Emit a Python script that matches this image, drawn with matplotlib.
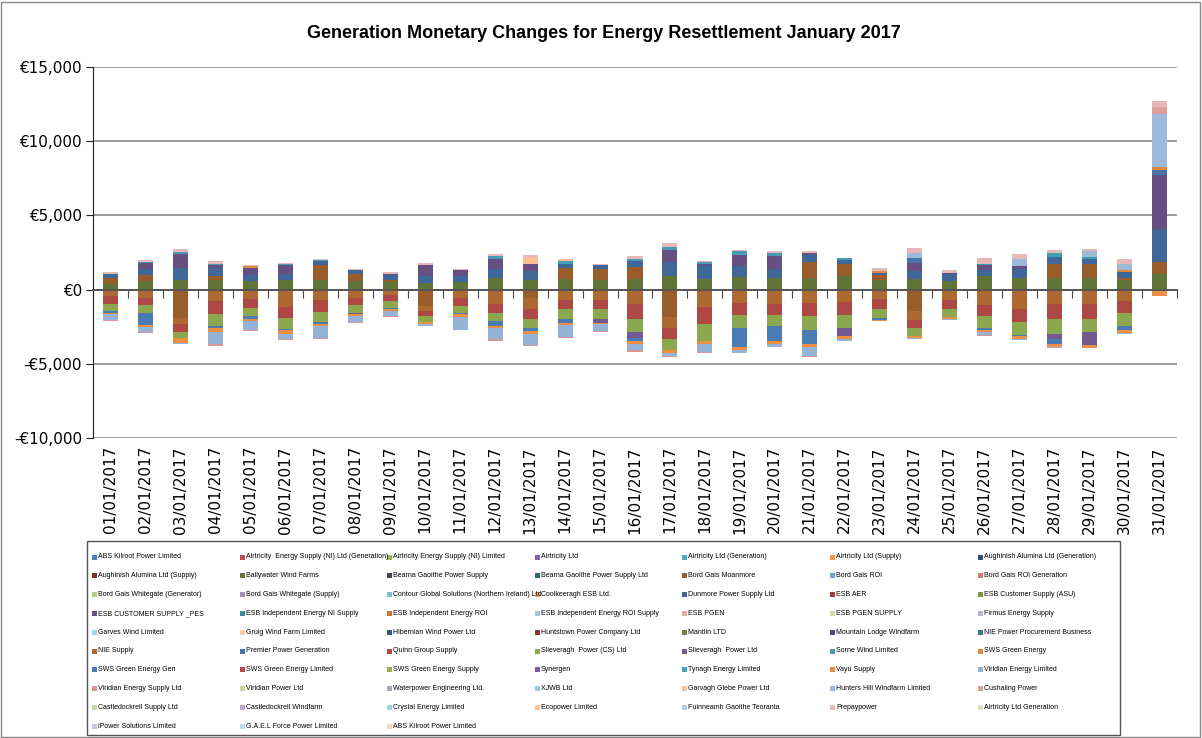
import matplotlib
matplotlib.use("Agg")
import matplotlib.pyplot as plt
from matplotlib.patches import Rectangle
from matplotlib.ticker import FuncFormatter
import matplotlib.transforms as mtransforms
import numpy as np

dates = [f"{d:02d}/01/2017" for d in range(1, 32)]

series_names = [
    "ABS Kilroot Power Limited", "Airtricity  Energy Supply (NI) Ltd (Generation)",
    "Airtricity Energy Supply (NI) Limited", "Airtricity Ltd", "Airtricity Ltd (Generation)",
    "Airtricity Ltd (Supply)", "Aughinish Alumina Ltd (Generation)",
    "Aughinish Alumina Ltd (Supply)", "Ballywater Wind Farms", "Bearna Gaoithe Power Supply",
    "Bearna Gaoithe Power Supply Ltd", "Bord Gais Moanmore", "Bord Gais ROI",
    "Bord Gais ROI Generation", "Bord Gais Whitegate (Generator)", "Bord Gais Whitegate (Supply)",
    "Contour Global Solutions (Northern Ireland) Ltd", "Coolkeeragh ESB Ltd.",
    "Dunmore Power Supply Ltd", "ESB AER", "ESB Customer Supply (ASU)",
    "ESB CUSTOMER SUPPLY _PES", "ESB Independent Energy NI Supply", "ESB Independent Energy ROI",
    "ESB Independent Energy ROI Supply", "ESB PGEN", "ESB PGEN SUPPLY", "Firmus Energy Supply",
    "Garves Wind Limited", "Gruig Wind Farm Limited", "Hibernian Wind Power Ltd",
    "Huntstown Power Company Ltd", "Mantlin LTD", "Mountain Lodge Windfarm",
    "NIE Power Procurement Business", "NIE Supply", "Premier Power Generation",
    "Quinn Group Supply", "Slieveragh  Power (CS) Ltd", "Slieveragh  Power Ltd",
    "Sorne Wind Limited", "SWS Green Energy", "SWS Green Energy Gen", "SWS Green Energy Limited",
    "SWS Green Energy Supply", "Synergen", "Tynagh Energy Limited", "Vayu Supply",
    "Viridian Energy Limited", "Viridian Energy Supply Ltd", "Viridian Power Ltd",
    "Waterpower Engineering Ltd.", "XJWB Ltd", "Garvagh Glebe Power Ltd",
    "Hunters Hill Windfarm Limited", "Cushaling Power", "Castledockrell Supply Ltd",
    "Castledockrell Windfarm", "Crystal Energy Limited", "Ecopower Limited",
    "Fuinneamh Gaoithe Teoranta", "Prepaypower", "Airtricity Ltd Generation",
    "iPower Solutions Limited", "G.A.E.L Force Power Limited", "ABS Kilroot Power Limited",
]

# daily values in EUR (estimated from the chart), series not listed are zero
ballywater = [400, 560, 670, 670, 560, 630, 670, 610, 520, 450, 520, 790, 670, 740, 670, 740,
              900, 740, 850, 810, 790, 920, 670, 700, 610, 900, 790, 810, 790, 630, 1020]
moanmore = [400, 400, -1890, 220, 0, 0, 1010, 470, 160, -1100, 0, 0, -560, 740, 700, 790,
            -1840, 0, 0, 0, 1080, 830, 340, -1460, 0, 0, 0, 940, 920, 180, 820]
dunmore = [220, 450, 790, 560, 450, 450, 220, 220, 290, 470, 400, 580, 560, 270, 270, 380,
           970, 900, 740, 610, 450, 270, 130, 540, 430, 400, 580, 450, 380, 380, 2220]
esb_pes = [0, 360, 970, 180, 450, 560, 0, 0, 110, 720, 380, 720, 520, 0, 0, 0,
           790, 110, 760, 850, 180, 0, 0, 520, 110, 340, 220, 0, 0, 0, 3670]
nie_supply = [-450, -540, -450, -790, -610, -1150, -720, -540, -380, -310, -560, -990, -720, -670,
              -670, -940, -740, -1170, -880, -940, -880, -830, -610, -560, -720, -1010, -1330,
              -990, -940, -760, 0]
premier = [0, 0, 0, 0, 0, 0, 0, 0, 0, 0, 0, 0, 0, 0, 0, 0,
           0, 0, 0, 0, 0, 0, 0, 340, 0, 0, 0, 0, 0, 0, 330]
quinn = [-540, -470, -490, -850, -610, -760, -760, -520, -400, -380, -540, -580, -670, -650,
         -650, -1010, -760, -1170, -850, -740, -920, -850, -670, -540, -560, -760, -850, -970,
         -1010, -810, -110]
slieveragh_cs = [-470, -540, -400, -810, -540, -720, -670, -490, -430, -380, -470, -560, -670,
                 -670, -630, -940, -740, -1120, -850, -760, -900, -880, -630, -560, -560, -790,
                 -850, -1010, -940, -880, 0]
slieveragh = [0, 0, 0, 0, 0, 0, 0, -90, 0, 0, 0, 0, 0, 0, -270, -360,
              0, 0, 0, 0, 0, -560, 0, 0, 0, 0, 0, -340, -810, 0, 0]
sorne = [0, 90, 110, 110, 0, 90, 90, 0, 0, 0, 0, 180, 0, 160, 0, 180,
         200, 110, 220, 200, 0, 110, 0, 0, 0, 110, 0, 270, 110, 0, 0]
sws_green = [0, 0, 0, 0, 100, 0, 0, 0, 0, 0, 0, 0, 0, 0, 0, 0,
             0, 0, 0, 0, 0, 0, 90, 0, 0, 0, 0, 0, 0, 110, 220]
sws_gen = [-100, -810, 0, -110, -200, -110, -200, 0, -130, 0, -90, -310, -180, -290, 0, -220,
           0, 0, -1280, -1030, -940, 0, -110, 0, 0, -130, -130, -340, 0, -290, 0]
vayu = [-90, -130, -360, -290, -160, -220, -110, -160, -70, -130, -180, -180, -160, -110, -130,
        -200, -220, -220, -180, -200, -220, -220, -90, -130, -110, -200, -200, -160, -220, -180,
        -310]
viridian_energy = [-400, -360, -70, -830, -630, -380, -790, -380, -400, -160, -850, -740, -790,
                   -790, -450, -430, -160, -520, -200, -220, -610, -130, 0, -110, -130, -150,
                   -50, 0, 0, -50, -40]
viridian_supply = [-90, -70, 0, -90, -70, -70, -90, -90, -50, 0, -50, -70, -70, -110, -90, -90,
                   -50, -50, 0, 0, -50, 0, 0, 0, 0, -70, 0, -130, 0, 0, 0]
garvagh = [0, 0, 0, 0, 0, 0, 0, 0, 0, 0, 0, 0, 450, 130, 0, 0,
           0, 0, 0, 0, 0, 0, 0, 0, 0, 0, 0, 0, 0, 0, 0]
hunters_hill = [0, 0, 0, 0, 0, 0, 0, 0, 0, 0, 0, 0, 0, 0, 0, 0,
                0, 0, 0, 0, 0, 0, 0, 400, 0, 0, 490, 0, 380, 450, 3560]
cushaling = [0, 0, 0, 0, 0, 0, 0, 0, 0, 0, 0, 0, 0, 0, 0, 0,
             0, 0, 0, 0, 0, 0, 0, 0, 0, 0, 0, 0, 0, 0, 440]
prepaypower = [150, 110, 200, 180, 120, 90, 90, 90, 110, 130, 110, 110, 110, 0, 110, 160,
               250, 90, 110, 110, 90, 0, 220, 270, 200, 380, 340, 180, 180, 290, 440]

active = {
    "Ballywater Wind Farms": ballywater,
    "Bord Gais Moanmore": moanmore,
    "Dunmore Power Supply Ltd": dunmore,
    "ESB CUSTOMER SUPPLY _PES": esb_pes,
    "NIE Supply": nie_supply,
    "Premier Power Generation": premier,
    "Quinn Group Supply": quinn,
    "Slieveragh  Power (CS) Ltd": slieveragh_cs,
    "Slieveragh  Power Ltd": slieveragh,
    "Sorne Wind Limited": sorne,
    "SWS Green Energy": sws_green,
    "SWS Green Energy Gen": sws_gen,
    "Vayu Supply": vayu,
    "Viridian Energy Limited": viridian_energy,
    "Viridian Energy Supply Ltd": viridian_supply,
    "Garvagh Glebe Power Ltd": garvagh,
    "Hunters Hill Windfarm Limited": hunters_hill,
    "Cushaling Power": cushaling,
    "Prepaypower": prepaypower,
}

# Excel 2007 style palette: 6 accents, then shaded / tinted variants
ACCENTS = ["#4F81BD", "#C0504D", "#9BBB59", "#8064A2", "#4BACC6", "#F79646"]
VARIANTS = [("s", 1.0), ("s", 0.62), ("t", 0.25), ("s", 0.80), ("t", 0.5), ("s", 0.70),
            ("s", 0.90), ("s", 0.95), ("t", 0.40), ("t", 0.45), ("t", 0.60)]

def series_color(i):
    base = np.array(matplotlib.colors.to_rgb(ACCENTS[i % 6]))
    kind, f = VARIANTS[i // 6]
    if kind == "s":
        return tuple(base * f)
    return tuple(base + (1 - base) * f)

fig = plt.figure(figsize=(12.02, 7.38), dpi=100)
W, H = 1202, 738
ax = fig.add_axes([93 / W, 1 - 438 / H, (1177 - 93) / W, (438 - 67) / H])

x = np.arange(len(dates))
pos_bottom = np.zeros(len(dates))
neg_bottom = np.zeros(len(dates))
for i, name in enumerate(series_names):
    vals = np.array(active.get(name, [0] * len(dates)), dtype=float)
    pos = np.where(vals > 0, vals, 0)
    neg = np.where(vals < 0, vals, 0)
    c = series_color(i)
    if pos.any():
        ax.bar(x, pos, 0.43, bottom=pos_bottom, color=c, linewidth=0, zorder=3)
    if neg.any():
        ax.bar(x, neg, 0.43, bottom=neg_bottom, color=c, linewidth=0, zorder=3)
    pos_bottom += pos
    neg_bottom += neg

ax.set_xlim(-0.5, len(dates) - 0.5)
ax.set_ylim(-10000, 15000)
ax.set_yticks(np.arange(-10000, 15001, 5000))
ax.yaxis.set_major_formatter(FuncFormatter(
    lambda v, p: f"€{v:,.0f}" if v >= 0 else f"-€{-v:,.0f}"))
ax.tick_params(axis="y", labelsize=11, length=5, direction="out", color="#222222", pad=3)
ax.yaxis.grid(True, color="#8a8a8a", linewidth=1.2, zorder=0)
ax.set_axisbelow(True)
for s in ("top", "right"):
    ax.spines[s].set_visible(False)
ax.spines["left"].set_color("#222222")
ax.spines["bottom"].set_position(("data", 0))
ax.spines["bottom"].set_color("#555555")
ax.spines["bottom"].set_linewidth(1.4)
ax.spines["bottom"].set_zorder(4)
ax.set_xticks(np.arange(-0.5, len(dates), 1.0))
ax.set_xticklabels([])
ax.tick_params(axis="x", length=6, direction="out", color="#444444")

trans = mtransforms.blended_transform_factory(ax.transData, ax.transAxes)
for xi, d in zip(x, dates):
    ax.text(xi, -0.022, d, transform=trans, rotation=90, ha="center", va="top", fontsize=11)

fig.text(0.502, 1 - 33 / H, "Generation Monetary Changes for Energy Resettlement January 2017",
         ha="center", va="center", fontsize=13, fontweight="bold",
         family=["Liberation Sans", "DejaVu Sans"])

# legend laid out like Excel: 7 equal columns, row-major
lx0, ly0, lx1, ly1 = 87, 541, 1120, 735
fig.add_artist(Rectangle((lx0 / W, 1 - ly1 / H), (lx1 - lx0) / W, (ly1 - ly0) / H,
                         transform=fig.transFigure, fill=False, edgecolor="#555555", lw=1.0))
col_dx, row_dy = 147.6, 18.8
for i, name in enumerate(series_names):
    r, c = divmod(i, 7)
    px = 92 + c * col_dx
    py = 557 + r * row_dy
    fig.add_artist(Rectangle((px / W, 1 - (py + 2.5) / H), 5 / W, 5 / H,
                             transform=fig.transFigure, facecolor=series_color(i), lw=0))
    fig.text((px + 6) / W, 1 - py / H, name, ha="left", va="center", fontsize=5.0,
             family=["Liberation Sans", "DejaVu Sans"])

# chart area border
fig.add_artist(Rectangle((1 / W, 1 / H), (W - 3) / W, (H - 3) / H, transform=fig.transFigure,
                         fill=False, edgecolor="#888888", lw=1.0))

fig.savefig("out.png", dpi=100)
